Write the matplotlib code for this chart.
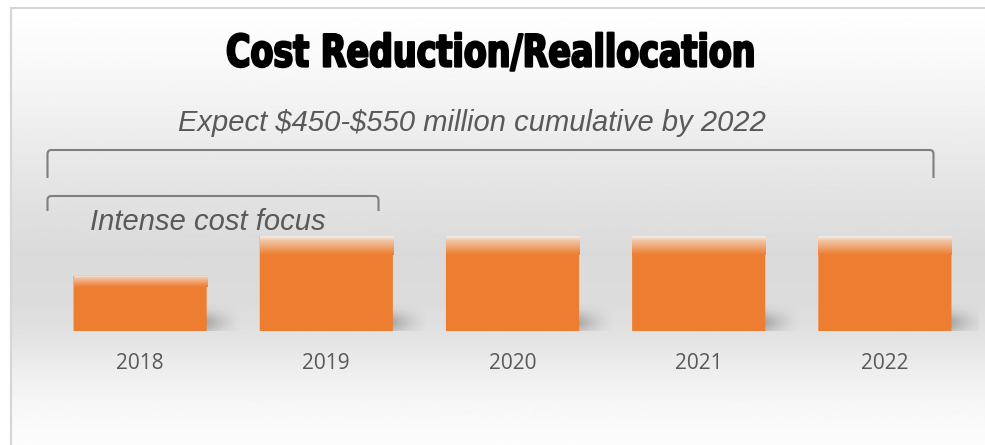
import numpy as np
import matplotlib
matplotlib.use('Agg')
import matplotlib.pyplot as plt
from matplotlib.path import Path
from matplotlib.patches import PathPatch
from matplotlib.patheffects import AbstractPathEffect
from matplotlib.transforms import Affine2D
from matplotlib.colors import to_rgb

# ---------------- data ----------------
years = ['2018', '2019', '2020', '2021', '2022']
savings = [0.58, 1.0, 1.0, 1.0, 1.0]          # relative annual savings (no axis in source)
title_text = 'Cost Reduction/Reallocation'
note_total = 'Expect $450-$550 million cumulative by 2022'
note_early = 'Intense cost focus'

# ---------------- figure ----------------
W, H = 985, 445
fig = plt.figure(figsize=(W / 100, H / 100), dpi=100)
fig.patch.set_facecolor('white')

# background axes in pixel coordinates (origin top-left)
bg = fig.add_axes([0, 0, 1, 1], zorder=0)
bg.set_axis_off()
stops_y = [0, 20, 60, 110, 180, 250, 300, 331, 370, 400, 445]
stops_v = [255, 253, 248, 240, 228, 218, 220, 226, 238, 246, 253]
vals = np.interp(np.arange(H), stops_y, stops_v) / 255.0
img = np.repeat(vals[:, None], 2, axis=1)
bg.imshow(img, cmap='gray', vmin=0, vmax=1, aspect='auto',
          extent=[11, W, H, 9], interpolation='bilinear')
bg.set_xlim(0, W)
bg.set_ylim(H, 0)
bg.plot([10, W], [8, 8], color='#d6d6d6', lw=1.6, solid_capstyle='butt')
bg.plot([10.5, 10.5], [8, H], color='#d6d6d6', lw=1.6, solid_capstyle='butt')


def bracket(x0, x1, yt, yb, r=4):
    verts = [(x0, yb), (x0, yt + r), (x0, yt), (x0 + r, yt),
             (x1 - r, yt), (x1, yt), (x1, yt + r), (x1, yb)]
    codes = [Path.MOVETO, Path.LINETO, Path.CURVE3, Path.CURVE3,
             Path.LINETO, Path.CURVE3, Path.CURVE3, Path.LINETO]
    bg.add_patch(PathPatch(Path(verts, codes), fill=False, ec='#7f7f7f',
                           lw=1.5, capstyle='butt', zorder=5))


bracket(47.5, 933.5, 150, 178)
bracket(47.5, 378.5, 196, 211)

bg.text(471.5, 123, note_total, ha='center', va='center', fontsize=21,
        style='italic', color='#595959', family=['Liberation Sans', 'DejaVu Sans'],
        parse_math=False)
bg.text(90, 222, note_early, ha='left', va='center', fontsize=21,
        style='italic', color='#595959', family=['Liberation Sans', 'DejaVu Sans'],
        parse_math=False)

# ---------------- bar axes ----------------
ax = fig.add_axes([47 / W, 1 - 331 / H, (978 - 47) / W, (331 - 140) / H], zorder=1)
ax.patch.set_alpha(0)
x = np.arange(len(years))
bw = 0.715
orange = '#ED7D31'
bars = ax.bar(x, savings, width=bw, color=orange, zorder=3, linewidth=0)
for b in bars:
    b.set_snap(False)

# top gloss gradient on each bar
n = 60
t = np.linspace(0, 1, n)  # 0 at top
c_top = np.array(to_rgb('#f4ece6'))
c_mid = np.array(to_rgb('#f1c3a2'))
c_bot = np.array(to_rgb(orange))
grad = np.zeros((n, 1, 3))
for i, tv in enumerate(t):
    if tv < 0.25:
        c = c_top + (c_mid - c_top) * (tv / 0.25)
    else:
        c = c_mid + (c_bot - c_mid) * ((tv - 0.25) / 0.75)
    grad[i, 0, :] = c

# shadow texture
sx_n, sy_n = 80, 50
gx = np.linspace(0, 1, sx_n)[None, :]
gy = np.linspace(1, 0, sy_n)[:, None]  # row 0 = top
alpha = 0.45 * np.clip(1 - gx, 0, 1) ** 1.5 * np.exp(-((gy - 0.35) / 0.38) ** 2)
shadow = np.zeros((sy_n, sx_n, 4))
shadow[..., :3] = 0.33
shadow[..., 3] = alpha

for xi, h, b in zip(x, savings, bars):
    im = ax.imshow(grad, aspect='auto', interpolation='bilinear', zorder=4,
                   extent=[xi - bw / 2, xi + bw / 2, h * 0.8, h])
    im.set_clip_path(b)
    ax.imshow(shadow, aspect='auto', interpolation='bilinear', zorder=2,
              extent=[xi + bw / 2 - 0.02, xi + bw / 2 + 0.19, -0.02, 0.28])

ax.set_xlim(-0.5, len(years) - 0.5)
ax.set_ylim(0, 191 / 95)
ax.set_xticks(x, years)
ax.set_yticks([])
ax.tick_params(axis='x', length=0, pad=16, labelsize=15, labelcolor='#595959')
for lab in ax.get_xticklabels():
    lab.set_family(['Open Sans', 'DejaVu Sans'])
for s in ax.spines.values():
    s.set_visible(False)


# ---------------- title (condensed heavy look) ----------------
class Squeeze(AbstractPathEffect):
    def __init__(self, sx, cx, lw=0.0):
        super().__init__()
        self.sx, self.cx, self.lw = sx, cx, lw

    def draw_path(self, renderer, gc, tpath, affine, rgbFace=None):
        aff = affine + Affine2D().translate(-self.cx, 0).scale(self.sx, 1).translate(self.cx, 0)
        gc0 = renderer.new_gc()
        gc0.copy_properties(gc)
        if self.lw:
            gc0.set_linewidth(self.lw)
            gc0.set_foreground(rgbFace if rgbFace is not None else 'black')
            gc0.set_joinstyle('round')
        else:
            gc0.set_linewidth(0)
        renderer.draw_path(gc0, tpath, aff, rgbFace)
        gc0.restore()


title = fig.text(491 / W, 1 - 66.5 / H, title_text, ha='center', va='baseline',
                 fontsize=32, weight='bold', color='black',
                 family=['DejaVu Sans'])
fig.canvas.draw()
bb = title.get_window_extent()
sx = 530.0 / bb.width
title.set_path_effects([Squeeze(sx, (bb.x0 + bb.x1) / 2, lw=1.6)])

fig.savefig('out.png', dpi=100, facecolor='white')
